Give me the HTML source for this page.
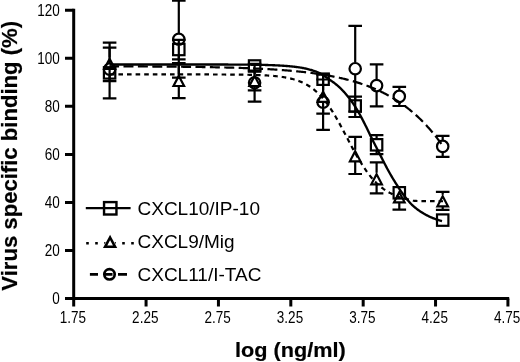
<!DOCTYPE html>
<html lang="en"><head><meta charset="utf-8"><title>Virus specific binding</title>
<style>html,body{margin:0;padding:0;background:#fff;}body{width:520px;height:362px;overflow:hidden;}svg{display:block;}text{font-family:"Liberation Sans",sans-serif;fill:#000;}.n{font-size:16px;}.b{font-size:21.8px;font-weight:bold;stroke:#000;stroke-width:0.2px;}.l{font-size:19px;}.k{stroke:#000;fill:none;}</style></head><body>
<svg width="520" height="362" viewBox="0 0 520 362">
<rect width="520" height="362" fill="#fff"/>
<path class="k" d="M109.60,74.44 L110.44,74.44 L111.27,74.44 L112.11,74.44 L112.94,74.44 L113.78,74.44 L114.61,74.44 L115.45,74.44 L116.28,74.44 L117.12,74.44 L117.96,74.44 L118.79,74.44 L119.63,74.44 L120.46,74.44 L121.30,74.44 L122.13,74.44 L122.97,74.44 L123.81,74.44 L124.64,74.44 L125.48,74.44 L126.31,74.44 L127.15,74.44 L127.98,74.44 L128.82,74.44 L129.65,74.44 L130.49,74.44 L131.33,74.44 L132.16,74.44 L133.00,74.44 L133.83,74.44 L134.67,74.44 L135.50,74.44 L136.34,74.44 L137.17,74.44 L138.01,74.44 L138.85,74.44 L139.68,74.44 L140.52,74.44 L141.35,74.44 L142.19,74.44 L143.02,74.44 L143.86,74.44 L144.69,74.44 L145.53,74.44 L146.37,74.44 L147.20,74.44 L148.04,74.44 L148.87,74.44 L149.71,74.44 L150.54,74.44 L151.38,74.44 L152.22,74.44 L153.05,74.44 L153.89,74.44 L154.72,74.44 L155.56,74.44 L156.39,74.44 L157.23,74.44 L158.06,74.44 L158.90,74.44 L159.74,74.44 L160.57,74.44 L161.41,74.44 L162.24,74.44 L163.08,74.44 L163.91,74.44 L164.75,74.44 L165.58,74.44 L166.42,74.44 L167.26,74.44 L168.09,74.44 L168.93,74.44 L169.76,74.44 L170.60,74.44 L171.43,74.44 L172.27,74.44 L173.10,74.45 L173.94,74.45 L174.78,74.45 L175.61,74.45 L176.45,74.45 L177.28,74.45 L178.12,74.45 L178.95,74.45 L179.79,74.45 L180.63,74.45 L181.46,74.45 L182.30,74.45 L183.13,74.45 L183.97,74.45 L184.80,74.45 L185.64,74.45 L186.47,74.45 L187.31,74.45 L188.15,74.45 L188.98,74.45 L189.82,74.45 L190.65,74.45 L191.49,74.45 L192.32,74.45 L193.16,74.45 L193.99,74.45 L194.83,74.45 L195.67,74.46 L196.50,74.46 L197.34,74.46 L198.17,74.46 L199.01,74.46 L199.84,74.46 L200.68,74.46 L201.51,74.46 L202.35,74.46 L203.19,74.46 L204.02,74.46 L204.86,74.47 L205.69,74.47 L206.53,74.47 L207.36,74.47 L208.20,74.47 L209.04,74.47 L209.87,74.47 L210.71,74.48 L211.54,74.48 L212.38,74.48 L213.21,74.48 L214.05,74.48 L214.88,74.49 L215.72,74.49 L216.56,74.49 L217.39,74.49 L218.23,74.50 L219.06,74.50 L219.90,74.50 L220.73,74.51 L221.57,74.51 L222.40,74.51 L223.24,74.52 L224.08,74.52 L224.91,74.52 L225.75,74.53 L226.58,74.53 L227.42,74.54 L228.25,74.54 L229.09,74.55 L229.92,74.55 L230.76,74.56 L231.60,74.56 L232.43,74.57 L233.27,74.58 L234.10,74.58 L234.94,74.59 L235.77,74.60 L236.61,74.61 L237.45,74.62 L238.28,74.62 L239.12,74.63 L239.95,74.64 L240.79,74.65 L241.62,74.66 L242.46,74.68 L243.29,74.69 L244.13,74.70 L244.97,74.71 L245.80,74.73 L246.64,74.74 L247.47,74.76 L248.31,74.77 L249.14,74.79 L249.98,74.81 L250.81,74.83 L251.65,74.85 L252.49,74.87 L253.32,74.89 L254.16,74.91 L254.99,74.94 L255.83,74.96 L256.66,74.99 L257.50,75.02 L258.33,75.05 L259.17,75.08 L260.01,75.11 L260.84,75.15 L261.68,75.18 L262.51,75.22 L263.35,75.26 L264.18,75.30 L265.02,75.35 L265.86,75.39 L266.69,75.44 L267.53,75.49 L268.36,75.55 L269.20,75.60 L270.03,75.66 L270.87,75.72 L271.70,75.79 L272.54,75.86 L273.38,75.93 L274.21,76.00 L275.05,76.08 L275.88,76.17 L276.72,76.25 L277.55,76.35 L278.39,76.44 L279.22,76.54 L280.06,76.65 L280.90,76.76 L281.73,76.88 L282.57,77.00 L283.40,77.13 L284.24,77.27 L285.07,77.41 L285.91,77.56 L286.74,77.71 L287.58,77.88 L288.42,78.05 L289.25,78.23 L290.09,78.42 L290.92,78.61 L291.76,78.82 L292.59,79.04 L293.43,79.27 L294.27,79.50 L295.10,79.75 L295.94,80.02 L296.77,80.29 L297.61,80.58 L298.44,80.87 L299.28,81.19 L300.11,81.52 L300.95,81.86 L301.79,82.22 L302.62,82.59 L303.46,82.98 L304.29,83.39 L305.13,83.82 L305.96,84.26 L306.80,84.73 L307.63,85.21 L308.47,85.72 L309.31,86.24 L310.14,86.79 L310.98,87.36 L311.81,87.96 L312.65,88.58 L313.48,89.22 L314.32,89.89 L315.15,90.58 L315.99,91.30 L316.83,92.05 L317.66,92.83 L318.50,93.63 L319.33,94.47 L320.17,95.33 L321.00,96.22 L321.84,97.14 L322.68,98.09 L323.51,99.08 L324.35,100.09 L325.18,101.13 L326.02,102.21 L326.85,103.32 L327.69,104.45 L328.52,105.62 L329.36,106.82 L330.20,108.05 L331.03,109.31 L331.87,110.59 L332.70,111.91 L333.54,113.25 L334.37,114.62 L335.21,116.02 L336.04,117.44 L336.88,118.88 L337.72,120.35 L338.55,121.84 L339.39,123.35 L340.22,124.87 L341.06,126.41 L341.89,127.97 L342.73,129.54 L343.56,131.12 L344.40,132.71 L345.24,134.30 L346.07,135.91 L346.91,137.51 L347.74,139.12 L348.58,140.72 L349.41,142.33 L350.25,143.92 L351.09,145.51 L351.92,147.08 L352.76,148.63 L353.59,150.16 L354.43,151.67 L355.26,153.16 L356.10,154.63 L356.93,156.09 L357.77,157.52 L358.61,158.92 L359.44,160.31 L360.28,161.68 L361.11,163.02 L361.95,164.34 L362.78,165.64 L363.62,166.91 L364.45,168.17 L365.29,169.40 L366.13,170.61 L366.96,171.78 L367.80,172.93 L368.63,174.04 L369.47,175.13 L370.30,176.18 L371.14,177.20 L371.97,178.19 L372.81,179.15 L373.65,180.08 L374.48,180.98 L375.32,181.86 L376.15,182.70 L376.99,183.51 L377.82,184.30 L378.66,185.06 L379.50,185.79 L380.33,186.49 L381.17,187.17 L382.00,187.82 L382.84,188.45 L383.67,189.06 L384.51,189.64 L385.34,190.20 L386.18,190.74 L387.02,191.25 L387.85,191.75 L388.69,192.22 L389.52,192.68 L390.36,193.12 L391.19,193.55 L392.03,193.97 L392.86,194.38 L393.70,194.78 L394.54,195.16 L395.37,195.54 L396.21,195.90 L397.04,196.24 L397.88,196.57 L398.71,196.88 L399.55,197.18 L400.38,197.45 L401.22,197.72 L402.06,197.96 L402.89,198.20 L403.73,198.42 L404.56,198.64 L405.40,198.84 L406.23,199.04 L407.07,199.24 L407.91,199.42 L408.74,199.61 L409.58,199.79 L410.41,199.99 L411.25,200.19 L412.08,200.39 L412.92,200.57 L413.75,200.72 L414.59,200.83 L415.43,200.91 L416.26,200.97 L417.10,201.02 L417.93,201.06 L418.77,201.10 L419.60,201.13 L420.44,201.16 L421.27,201.18 L422.11,201.19 L422.95,201.20 L423.78,201.19 L424.62,201.19 L425.45,201.18 L426.29,201.17 L427.12,201.17 L427.96,201.16 L428.79,201.16 L429.63,201.16 L430.47,201.17 L431.30,201.18 L432.14,201.19 L432.97,201.20 L433.81,201.20 L434.64,201.21 L435.48,201.21 L436.32,201.21 L437.15,201.22 L437.99,201.22 L438.82,201.22 L439.66,201.23 L440.49,201.24 L441.33,201.24 L442.16,201.25 L443.00,201.26" stroke-width="2.2" stroke-dasharray="0.00 0.20 4.60 4.00 4.60 4.00 4.60 4.00 4.60 4.00 4.60 4.00 4.60 4.00 4.60 4.00 4.60 4.00 4.60 4.00 4.60 4.00 4.60 4.00 4.60 4.00 4.60 4.00 4.60 4.00 4.60 4.00 4.60 4.00 4.60 4.00 4.60 4.00 4.60 4.00 4.60 4.00 4.60 4.00 4.60 4.00 4.60 4.00 4.60 4.00 4.60 4.00 4.60 4.00 4.60 4.00 4.60 4.00 4.60 4.00 4.60 4.00 4.60 4.00 4.60 4.00 4.60 4.00 4.60 4.00 4.60 4.00 4.60 4.00 4.60 4.00 4.60 4.00 4.60 4.00 4.60 4.00 4.60 4.00 4.60 4.00 4.60 4.00 4.60 4.00 4.60 4.00 4.37 1000.00"/>
<path class="k" d="M109.60,66.34 L110.44,66.34 L111.27,66.35 L112.11,66.35 L112.94,66.35 L113.78,66.35 L114.61,66.36 L115.45,66.36 L116.28,66.36 L117.12,66.36 L117.96,66.37 L118.79,66.37 L119.63,66.37 L120.46,66.37 L121.30,66.38 L122.13,66.38 L122.97,66.38 L123.81,66.39 L124.64,66.39 L125.48,66.39 L126.31,66.40 L127.15,66.40 L127.98,66.40 L128.82,66.40 L129.65,66.41 L130.49,66.41 L131.33,66.41 L132.16,66.42 L133.00,66.42 L133.83,66.43 L134.67,66.43 L135.50,66.43 L136.34,66.44 L137.17,66.44 L138.01,66.44 L138.85,66.45 L139.68,66.45 L140.52,66.46 L141.35,66.46 L142.19,66.46 L143.02,66.47 L143.86,66.47 L144.69,66.48 L145.53,66.48 L146.37,66.49 L147.20,66.49 L148.04,66.50 L148.87,66.50 L149.71,66.50 L150.54,66.51 L151.38,66.51 L152.22,66.52 L153.05,66.53 L153.89,66.53 L154.72,66.54 L155.56,66.54 L156.39,66.55 L157.23,66.55 L158.06,66.56 L158.90,66.56 L159.74,66.57 L160.57,66.58 L161.41,66.58 L162.24,66.59 L163.08,66.59 L163.91,66.60 L164.75,66.61 L165.58,66.61 L166.42,66.62 L167.26,66.63 L168.09,66.63 L168.93,66.64 L169.76,66.65 L170.60,66.65 L171.43,66.66 L172.27,66.67 L173.10,66.68 L173.94,66.68 L174.78,66.69 L175.61,66.70 L176.45,66.71 L177.28,66.72 L178.12,66.73 L178.95,66.73 L179.79,66.74 L180.63,66.75 L181.46,66.76 L182.30,66.77 L183.13,66.78 L183.97,66.79 L184.80,66.80 L185.64,66.81 L186.47,66.82 L187.31,66.83 L188.15,66.84 L188.98,66.85 L189.82,66.86 L190.65,66.87 L191.49,66.88 L192.32,66.89 L193.16,66.90 L193.99,66.91 L194.83,66.92 L195.67,66.94 L196.50,66.95 L197.34,66.96 L198.17,66.97 L199.01,66.98 L199.84,67.00 L200.68,67.01 L201.51,67.02 L202.35,67.04 L203.19,67.05 L204.02,67.06 L204.86,67.08 L205.69,67.09 L206.53,67.11 L207.36,67.12 L208.20,67.14 L209.04,67.15 L209.87,67.17 L210.71,67.18 L211.54,67.20 L212.38,67.21 L213.21,67.23 L214.05,67.25 L214.88,67.26 L215.72,67.28 L216.56,67.30 L217.39,67.32 L218.23,67.33 L219.06,67.35 L219.90,67.37 L220.73,67.39 L221.57,67.41 L222.40,67.43 L223.24,67.45 L224.08,67.47 L224.91,67.49 L225.75,67.51 L226.58,67.53 L227.42,67.55 L228.25,67.57 L229.09,67.60 L229.92,67.62 L230.76,67.64 L231.60,67.67 L232.43,67.69 L233.27,67.71 L234.10,67.74 L234.94,67.76 L235.77,67.79 L236.61,67.81 L237.45,67.84 L238.28,67.87 L239.12,67.89 L239.95,67.92 L240.79,67.95 L241.62,67.98 L242.46,68.01 L243.29,68.04 L244.13,68.06 L244.97,68.10 L245.80,68.13 L246.64,68.16 L247.47,68.19 L248.31,68.22 L249.14,68.25 L249.98,68.29 L250.81,68.32 L251.65,68.35 L252.49,68.39 L253.32,68.43 L254.16,68.46 L254.99,68.50 L255.83,68.53 L256.66,68.57 L257.50,68.61 L258.33,68.65 L259.17,68.69 L260.01,68.73 L260.84,68.77 L261.68,68.81 L262.51,68.85 L263.35,68.90 L264.18,68.94 L265.02,68.99 L265.86,69.03 L266.69,69.08 L267.53,69.12 L268.36,69.17 L269.20,69.22 L270.03,69.27 L270.87,69.32 L271.70,69.37 L272.54,69.42 L273.38,69.47 L274.21,69.52 L275.05,69.58 L275.88,69.63 L276.72,69.69 L277.55,69.74 L278.39,69.80 L279.22,69.86 L280.06,69.92 L280.90,69.98 L281.73,70.04 L282.57,70.10 L283.40,70.16 L284.24,70.23 L285.07,70.29 L285.91,70.36 L286.74,70.43 L287.58,70.50 L288.42,70.56 L289.25,70.64 L290.09,70.71 L290.92,70.78 L291.76,70.85 L292.59,70.93 L293.43,71.01 L294.27,71.08 L295.10,71.16 L295.94,71.24 L296.77,71.32 L297.61,71.41 L298.44,71.49 L299.28,71.58 L300.11,71.66 L300.95,71.75 L301.79,71.84 L302.62,71.93 L303.46,72.02 L304.29,72.12 L305.13,72.21 L305.96,72.31 L306.80,72.41 L307.63,72.51 L308.47,72.61 L309.31,72.71 L310.14,72.82 L310.98,72.93 L311.81,73.03 L312.65,73.14 L313.48,73.26 L314.32,73.37 L315.15,73.49 L315.99,73.60 L316.83,73.72 L317.66,73.84 L318.50,73.97 L319.33,74.09 L320.17,74.22 L321.00,74.35 L321.84,74.48 L322.68,74.61 L323.51,74.75 L324.35,74.89 L325.18,75.03 L326.02,75.17 L326.85,75.31 L327.69,75.46 L328.52,75.61 L329.36,75.76 L330.20,75.91 L331.03,76.07 L331.87,76.23 L332.70,76.39 L333.54,76.55 L334.37,76.72 L335.21,76.89 L336.04,77.06 L336.88,77.23 L337.72,77.41 L338.55,77.59 L339.39,77.77 L340.22,77.96 L341.06,78.15 L341.89,78.34 L342.73,78.54 L343.56,78.73 L344.40,78.93 L345.24,79.14 L346.07,79.35 L346.91,79.56 L347.74,79.77 L348.58,79.99 L349.41,80.21 L350.25,80.43 L351.09,80.66 L351.92,80.89 L352.76,81.13 L353.59,81.37 L354.43,81.61 L355.26,81.86 L356.10,82.11 L356.93,82.36 L357.77,82.62 L358.61,82.88 L359.44,83.15 L360.28,83.42 L361.11,83.70 L361.95,83.98 L362.78,84.26 L363.62,84.55 L364.45,84.84 L365.29,85.14 L366.13,85.44 L366.96,85.75 L367.80,86.06 L368.63,86.38 L369.47,86.70 L370.30,87.02 L371.14,87.36 L371.97,87.69 L372.81,88.03 L373.65,88.38 L374.48,88.73 L375.32,89.09 L376.15,89.46 L376.99,89.83 L377.82,90.20 L378.66,90.58 L379.50,90.97 L380.33,91.36 L381.17,91.76 L382.00,92.17 L382.84,92.58 L383.67,93.00 L384.51,93.42 L385.34,93.85 L386.18,94.29 L387.02,94.73 L387.85,95.18 L388.69,95.64 L389.52,96.11 L390.36,96.58 L391.19,97.06 L392.03,97.55 L392.86,98.04 L393.70,98.54 L394.54,99.05 L395.37,99.57 L396.21,100.10 L397.04,100.63 L397.88,101.17 L398.71,101.72 L399.55,102.28 L400.38,102.84 L401.22,103.42 L402.06,104.00 L402.89,104.60 L403.73,105.20 L404.56,105.81 L405.40,106.43 L406.23,107.06 L407.07,107.70 L407.91,108.34 L408.74,109.00 L409.58,109.67 L410.41,110.35 L411.25,111.04 L412.08,111.74 L412.92,112.44 L413.75,113.16 L414.59,113.89 L415.43,114.63 L416.26,115.39 L417.10,116.15 L417.93,116.92 L418.77,117.71 L419.60,118.51 L420.44,119.31 L421.27,120.14 L422.11,120.97 L422.95,121.81 L423.78,122.67 L424.62,123.54 L425.45,124.42 L426.29,125.32 L427.12,126.23 L427.96,127.15 L428.79,128.08 L429.63,129.03 L430.47,129.99 L431.30,130.97 L432.14,131.96 L432.97,132.97 L433.81,133.98 L434.64,135.02 L435.48,136.06 L436.32,137.13 L437.15,138.20 L437.99,139.30 L438.82,140.41 L439.66,141.53 L440.49,142.67 L441.33,143.83 L442.16,145.00 L443.00,146.19" stroke-width="2.2" stroke-dasharray="0.00 0.00 9.48 4.40 10.00 4.40 10.00 4.40 10.00 4.40 10.00 4.40 10.00 4.40 10.00 4.40 10.00 4.40 10.00 4.40 10.00 4.40 10.00 4.40 10.00 4.40 10.00 4.40 10.00 4.40 10.00 4.40 10.00 4.40 10.00 4.40 10.00 4.40 10.00 4.40 10.00 4.40 10.00 4.40 10.00 4.40 10.00 4.40 10.00 4.40 10.00 1000.00"/>
<path class="k" d="M109.60,64.47 L110.43,64.47 L111.27,64.47 L112.10,64.47 L112.93,64.47 L113.77,64.47 L114.60,64.47 L115.43,64.47 L116.26,64.47 L117.10,64.47 L117.93,64.47 L118.76,64.47 L119.60,64.47 L120.43,64.47 L121.26,64.47 L122.10,64.47 L122.93,64.47 L123.76,64.47 L124.60,64.47 L125.43,64.47 L126.26,64.47 L127.09,64.47 L127.93,64.47 L128.76,64.47 L129.59,64.47 L130.43,64.47 L131.26,64.47 L132.09,64.47 L132.93,64.47 L133.76,64.47 L134.59,64.47 L135.43,64.47 L136.26,64.47 L137.09,64.47 L137.92,64.47 L138.76,64.47 L139.59,64.47 L140.42,64.47 L141.26,64.47 L142.09,64.47 L142.92,64.47 L143.76,64.47 L144.59,64.47 L145.42,64.47 L146.26,64.47 L147.09,64.47 L147.92,64.47 L148.75,64.47 L149.59,64.47 L150.42,64.47 L151.25,64.47 L152.09,64.47 L152.92,64.47 L153.75,64.47 L154.59,64.47 L155.42,64.47 L156.25,64.47 L157.09,64.47 L157.92,64.47 L158.75,64.47 L159.58,64.48 L160.42,64.48 L161.25,64.48 L162.08,64.48 L162.92,64.48 L163.75,64.48 L164.58,64.48 L165.42,64.48 L166.25,64.48 L167.08,64.48 L167.92,64.48 L168.75,64.48 L169.58,64.48 L170.42,64.48 L171.25,64.48 L172.08,64.48 L172.91,64.48 L173.75,64.48 L174.58,64.48 L175.41,64.48 L176.25,64.48 L177.08,64.48 L177.91,64.48 L178.75,64.48 L179.58,64.48 L180.41,64.48 L181.25,64.48 L182.08,64.48 L182.91,64.48 L183.74,64.48 L184.58,64.48 L185.41,64.48 L186.24,64.48 L187.08,64.48 L187.91,64.48 L188.74,64.48 L189.58,64.48 L190.41,64.48 L191.24,64.48 L192.08,64.48 L192.91,64.48 L193.74,64.48 L194.57,64.49 L195.41,64.49 L196.24,64.49 L197.07,64.49 L197.91,64.49 L198.74,64.49 L199.57,64.49 L200.41,64.49 L201.24,64.49 L202.07,64.49 L202.91,64.49 L203.74,64.49 L204.57,64.49 L205.40,64.49 L206.24,64.50 L207.07,64.50 L207.90,64.50 L208.74,64.50 L209.57,64.50 L210.40,64.50 L211.24,64.50 L212.07,64.50 L212.90,64.50 L213.74,64.51 L214.57,64.51 L215.40,64.51 L216.23,64.51 L217.07,64.51 L217.90,64.51 L218.73,64.52 L219.57,64.52 L220.40,64.52 L221.23,64.52 L222.07,64.52 L222.90,64.53 L223.73,64.53 L224.57,64.53 L225.40,64.53 L226.23,64.54 L227.06,64.54 L227.90,64.54 L228.73,64.55 L229.56,64.55 L230.40,64.55 L231.23,64.56 L232.06,64.56 L232.90,64.56 L233.73,64.57 L234.56,64.57 L235.40,64.58 L236.23,64.58 L237.06,64.59 L237.89,64.59 L238.73,64.60 L239.56,64.60 L240.39,64.61 L241.23,64.61 L242.06,64.62 L242.89,64.63 L243.73,64.63 L244.56,64.64 L245.39,64.65 L246.23,64.65 L247.06,64.66 L247.89,64.67 L248.72,64.68 L249.56,64.69 L250.39,64.70 L251.22,64.71 L252.06,64.72 L252.89,64.73 L253.72,64.74 L254.56,64.75 L255.39,64.77 L256.22,64.78 L257.06,64.79 L257.89,64.81 L258.72,64.82 L259.55,64.84 L260.39,64.86 L261.22,64.87 L262.05,64.89 L262.89,64.91 L263.72,64.93 L264.55,64.95 L265.39,64.97 L266.22,64.99 L267.05,65.02 L267.89,65.04 L268.72,65.07 L269.55,65.09 L270.38,65.12 L271.22,65.15 L272.05,65.18 L272.88,65.21 L273.72,65.24 L274.55,65.28 L275.38,65.31 L276.22,65.35 L277.05,65.39 L277.88,65.43 L278.72,65.47 L279.55,65.52 L280.38,65.57 L281.22,65.62 L282.05,65.67 L282.88,65.72 L283.71,65.77 L284.55,65.83 L285.38,65.89 L286.21,65.96 L287.05,66.02 L287.88,66.09 L288.71,66.16 L289.55,66.24 L290.38,66.32 L291.21,66.40 L292.05,66.48 L292.88,66.57 L293.71,66.67 L294.54,66.76 L295.38,66.86 L296.21,66.97 L297.04,67.08 L297.88,67.20 L298.71,67.32 L299.54,67.44 L300.38,67.57 L301.21,67.71 L302.04,67.85 L302.88,68.01 L303.71,68.17 L304.54,68.34 L305.37,68.51 L306.21,68.70 L307.04,68.89 L307.87,69.09 L308.71,69.31 L309.54,69.53 L310.37,69.76 L311.21,70.00 L312.04,70.25 L312.87,70.52 L313.71,70.79 L314.54,71.08 L315.37,71.37 L316.20,71.68 L317.04,72.01 L317.87,72.34 L318.70,72.70 L319.54,73.11 L320.37,73.55 L321.20,74.02 L322.04,74.52 L322.87,75.05 L323.70,75.60 L324.54,76.16 L325.37,76.74 L326.20,77.32 L327.03,77.91 L327.87,78.49 L328.70,79.07 L329.53,79.64 L330.37,80.20 L331.20,80.76 L332.03,81.34 L332.87,81.94 L333.70,82.55 L334.53,83.18 L335.37,83.83 L336.20,84.49 L337.03,85.18 L337.86,85.89 L338.70,86.63 L339.53,87.39 L340.36,88.18 L341.20,88.99 L342.03,89.83 L342.86,90.70 L343.70,91.59 L344.53,92.50 L345.36,93.44 L346.20,94.40 L347.03,95.39 L347.86,96.41 L348.69,97.47 L349.53,98.56 L350.36,99.68 L351.19,100.83 L352.03,102.00 L352.86,103.21 L353.69,104.44 L354.53,105.70 L355.36,107.00 L356.19,108.33 L357.03,109.70 L357.86,111.10 L358.69,112.54 L359.52,114.02 L360.36,115.54 L361.19,117.09 L362.02,118.66 L362.86,120.25 L363.69,121.87 L364.52,123.50 L365.36,125.16 L366.19,126.83 L367.02,128.52 L367.86,130.22 L368.69,131.94 L369.52,133.67 L370.35,135.41 L371.19,137.13 L372.02,138.83 L372.85,140.51 L373.69,142.17 L374.52,143.82 L375.35,145.45 L376.19,147.08 L377.02,148.71 L377.85,150.34 L378.69,151.96 L379.52,153.60 L380.35,155.24 L381.18,156.89 L382.02,158.54 L382.85,160.19 L383.68,161.82 L384.52,163.43 L385.35,165.03 L386.18,166.62 L387.02,168.19 L387.85,169.73 L388.68,171.26 L389.52,172.76 L390.35,174.23 L391.18,175.68 L392.02,177.10 L392.85,178.49 L393.68,179.86 L394.51,181.21 L395.35,182.54 L396.18,183.87 L397.01,185.19 L397.85,186.50 L398.68,187.80 L399.51,189.08 L400.35,190.34 L401.18,191.57 L402.01,192.78 L402.85,193.96 L403.68,195.11 L404.51,196.22 L405.34,197.29 L406.18,198.33 L407.01,199.35 L407.84,200.34 L408.68,201.30 L409.51,202.23 L410.34,203.12 L411.18,203.98 L412.01,204.79 L412.84,205.57 L413.68,206.33 L414.51,207.05 L415.34,207.75 L416.17,208.43 L417.01,209.08 L417.84,209.70 L418.67,210.31 L419.51,210.89 L420.34,211.46 L421.17,212.00 L422.01,212.53 L422.84,213.04 L423.67,213.53 L424.51,214.00 L425.34,214.47 L426.17,214.92 L427.00,215.35 L427.84,215.78 L428.67,216.19 L429.50,216.59 L430.34,216.97 L431.17,217.35 L432.00,217.71 L432.84,218.05 L433.67,218.39 L434.50,218.71 L435.34,219.01 L436.17,219.30 L437.00,219.58 L437.83,219.84 L438.67,220.10 L439.50,220.35 L440.33,220.58 L441.17,220.81 L442.00,221.03" stroke-width="2.35"/>
<path class="k" stroke-width="2.2" d="M109.6,63.00V42.7M102.8,42.7H116.39999999999999M109.6,75.40V98.4M102.8,98.4H116.39999999999999"/>
<circle class="k" cx="109.6" cy="69.2" r="5.7" stroke-width="2.2"/>
<path class="k" stroke-width="2.2" d="M178.8,33.10V0.6M172.0,0.6H185.60000000000002M178.8,45.50V77.6M172.0,77.6H185.60000000000002"/>
<circle class="k" cx="178.8" cy="39.3" r="5.7" stroke-width="2.2"/>
<path class="k" stroke-width="2.2" d="M254.6,76.60V63.8M247.79999999999998,63.8H261.4M254.6,89.00V101.7M247.79999999999998,101.7H261.4"/>
<circle class="k" cx="254.6" cy="82.8" r="5.7" stroke-width="2.2"/>
<path class="k" stroke-width="2.2" d="M323.1,96.00V74.6M316.3,74.6H329.90000000000003M323.1,108.40V129.8M316.3,129.8H329.90000000000003"/>
<circle class="k" cx="323.1" cy="102.2" r="5.7" stroke-width="2.2"/>
<path class="k" stroke-width="2.2" d="M355.2,62.50V25.9M348.4,25.9H362.0M355.2,74.90V111.5M348.4,111.5H362.0"/>
<circle class="k" cx="355.2" cy="68.7" r="5.7" stroke-width="2.2"/>
<path class="k" stroke-width="2.2" d="M376.6,79.40V64.3M369.8,64.3H383.40000000000003M376.6,91.80V106.4M369.8,106.4H383.40000000000003"/>
<circle class="k" cx="376.6" cy="85.6" r="5.7" stroke-width="2.2"/>
<path class="k" stroke-width="2.2" d="M399.3,90.20V86.8M392.5,86.8H406.1M399.3,102.60V106.0M392.5,106.0H406.1"/>
<circle class="k" cx="399.3" cy="96.4" r="5.7" stroke-width="2.2"/>
<path class="k" stroke-width="2.2" d="M442.7,140.20V135.9M435.9,135.9H449.5M442.7,152.60V156.9M435.9,156.9H449.5"/>
<circle class="k" cx="442.7" cy="146.4" r="5.7" stroke-width="2.2"/>
<path class="k" stroke-width="2.2" d="M109.6,57.40V47.6M102.8,47.6H116.39999999999999M109.6,69.40V81.2M102.8,81.2H116.39999999999999"/>
<path class="k" stroke-width="2.2" stroke-linejoin="miter" d="M109.6,58.80L114.89999999999999,68.90H104.3Z"/>
<path class="k" stroke-width="2.2" d="M178.8,74.50V63M172.0,63H185.60000000000002M178.8,86.50V98.1M172.0,98.1H185.60000000000002"/>
<path class="k" stroke-width="2.2" stroke-linejoin="miter" d="M178.8,75.90L184.10000000000002,86.00H173.5Z"/>
<path class="k" stroke-width="2.2" d="M254.6,74.50V70.7M247.79999999999998,70.7H261.4M254.6,86.50V90.3M247.79999999999998,90.3H261.4"/>
<path class="k" stroke-width="2.2" stroke-linejoin="miter" d="M254.6,75.90L259.9,86.00H249.29999999999998Z"/>
<path class="k" stroke-width="2.2" d="M323.1,90.30V79.5M316.3,79.5H329.90000000000003M323.1,102.30V113.7M316.3,113.7H329.90000000000003"/>
<path class="k" stroke-width="2.2" stroke-linejoin="miter" d="M323.1,91.70L328.40000000000003,101.80H317.8Z"/>
<path class="k" stroke-width="2.2" d="M355.2,149.80V136.9M348.4,136.9H362.0M355.2,161.80V174M348.4,174H362.0"/>
<path class="k" stroke-width="2.2" stroke-linejoin="miter" d="M355.2,151.20L360.5,161.30H349.9Z"/>
<path class="k" stroke-width="2.2" d="M376.6,172.80V162.3M369.8,162.3H383.40000000000003M376.6,184.80V193.4M369.8,193.4H383.40000000000003"/>
<path class="k" stroke-width="2.2" stroke-linejoin="miter" d="M376.6,174.20L381.90000000000003,184.30H371.3Z"/>
<path class="k" stroke-width="2.2" d="M399.3,202.80V209.7M392.5,209.7H406.1"/>
<path class="k" stroke-width="2.2" stroke-linejoin="miter" d="M399.3,192.20L404.6,202.30H394.0Z"/>
<path class="k" stroke-width="2.2" d="M442.7,194.80V191.9M435.9,191.9H449.5M442.7,206.80V209.9M435.9,209.9H449.5"/>
<path class="k" stroke-width="2.2" stroke-linejoin="miter" d="M442.7,196.20L448.0,206.30H437.4Z"/>
<rect class="k" x="103.90" y="67.20" width="11.4" height="11.4" stroke-width="2.2"/>
<path class="k" stroke-width="2.2" d="M178.8,43.30V39.8M172.0,39.8H185.60000000000002M178.8,55.70V59.3M172.0,59.3H185.60000000000002"/>
<rect class="k" x="173.10" y="43.80" width="11.4" height="11.4" stroke-width="2.2"/>
<rect class="k" x="248.90" y="60.30" width="11.4" height="11.4" stroke-width="2.2"/>
<rect class="k" x="317.40" y="73.50" width="11.4" height="11.4" stroke-width="2.2"/>
<path class="k" stroke-width="2.2" d="M355.2,99.80V96.7M348.4,96.7H362.0M355.2,112.20V117M348.4,117H362.0"/>
<rect class="k" x="349.50" y="100.30" width="11.4" height="11.4" stroke-width="2.2"/>
<path class="k" stroke-width="2.2" d="M376.6,138.60V135.1M369.8,135.1H383.40000000000003M376.6,151.00V154.2M369.8,154.2H383.40000000000003"/>
<rect class="k" x="370.90" y="139.10" width="11.4" height="11.4" stroke-width="2.2"/>
<rect class="k" x="393.60" y="187.10" width="11.4" height="11.4" stroke-width="2.2"/>
<rect class="k" x="437.00" y="214.40" width="11.4" height="11.4" stroke-width="2.2"/>
<path class="k" stroke-width="3" d="M73.7,8.8V300 M72.2,298.4H509.2"/>
<path class="k" stroke-width="3" d="M65,298.50H73.7M65,250.46H73.7M65,202.42H73.7M65,154.38H73.7M65,106.34H73.7M65,58.30H73.7M65,10.26H73.7M73.70,298.4V306.5M146.07,298.4V306.5M218.44,298.4V306.5M290.81,298.4V306.5M363.18,298.4V306.5M435.55,298.4V306.5M507.92,298.4V306.5"/>
<text class="n" text-anchor="end" transform="translate(59.8,304.40) scale(0.845,1)">0</text>
<text class="n" text-anchor="end" transform="translate(59.8,256.36) scale(0.845,1)">20</text>
<text class="n" text-anchor="end" transform="translate(59.8,208.32) scale(0.845,1)">40</text>
<text class="n" text-anchor="end" transform="translate(59.8,160.28) scale(0.845,1)">60</text>
<text class="n" text-anchor="end" transform="translate(59.8,112.24) scale(0.845,1)">80</text>
<text class="n" text-anchor="end" transform="translate(59.8,64.20) scale(0.845,1)">100</text>
<text class="n" text-anchor="end" transform="translate(59.8,16.16) scale(0.845,1)">120</text>
<text class="n" text-anchor="middle" transform="translate(72.90,323.2) scale(0.845,1)">1.75</text>
<text class="n" text-anchor="middle" transform="translate(145.27,323.2) scale(0.845,1)">2.25</text>
<text class="n" text-anchor="middle" transform="translate(217.64,323.2) scale(0.845,1)">2.75</text>
<text class="n" text-anchor="middle" transform="translate(290.01,323.2) scale(0.845,1)">3.25</text>
<text class="n" text-anchor="middle" transform="translate(362.38,323.2) scale(0.845,1)">3.75</text>
<text class="n" text-anchor="middle" transform="translate(434.75,323.2) scale(0.845,1)">4.25</text>
<text class="n" text-anchor="middle" transform="translate(507.12,323.2) scale(0.845,1)">4.75</text>
<text class="b" text-anchor="middle" transform="translate(17.1,155.8) rotate(-90)" textLength="269.8" lengthAdjust="spacingAndGlyphs">Virus specific binding (%)</text>
<text class="b" style="font-size:20.8px" text-anchor="middle" x="290.4" y="356.9" textLength="110.6" lengthAdjust="spacingAndGlyphs">log (ng/ml)</text>
<path class="k" stroke-width="2.4" d="M85.8,208.1H130.6"/>
<rect class="k" x="104.05" y="202.10" width="12.4" height="12.4" stroke-width="2.4"/>
<path class="k" stroke-width="2.6" stroke-dasharray="2.6 6.4" d="M86.2,243.2H134"/>
<path d="M110.1,234.5L118.6,249H101.6Z" fill="#fff" stroke="none"/>
<path class="k" stroke-width="2.55" d="M110.1,237.5L115.1,246.8H105.1Z"/>
<path class="k" stroke-width="2.9" d="M89.9,274.4H98M104,274.4H112.5M118,274.4H127"/>
<circle class="k" cx="109.5" cy="274.3" r="5.2" stroke-width="2.7"/>
<text class="l" x="137.5" y="215.2">CXCL10/IP-10</text>
<text class="l" x="137.5" y="248.2">CXCL9/Mig</text>
<text class="l" x="137.5" y="281.4">CXCL11/I-TAC</text>
</svg></body></html>
